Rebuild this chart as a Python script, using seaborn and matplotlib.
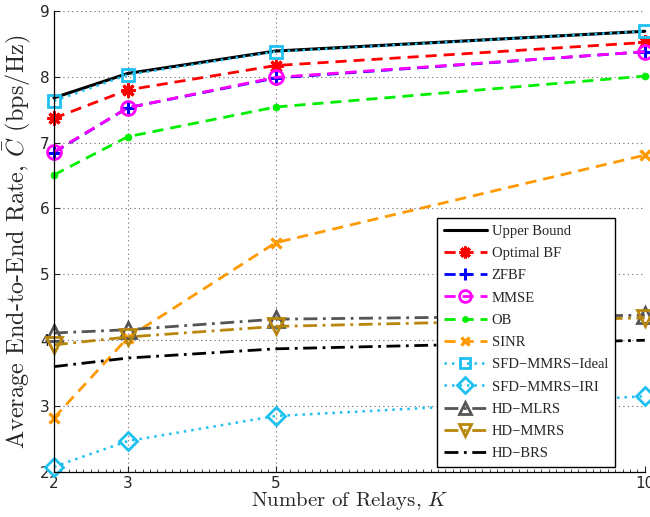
import matplotlib
matplotlib.use("Agg")
import matplotlib.pyplot as plt
from matplotlib.ticker import MultipleLocator, FixedLocator
import seaborn as sns
import pandas as pd

# Number of relays
relays = [2, 3, 5, 10]

# Average end-to-end rate (bps/Hz) per scheme
upper_bound = [7.68, 8.05, 8.39, 8.69]
optimal_bf = [7.37, 7.80, 8.17, 8.52]
zfbf = [6.85, 7.53, 7.98, 8.38]
mmse = [6.86, 7.53, 7.99, 8.38]
ob = [6.51, 7.09, 7.54, 8.01]
sinr = [2.82, 4.04, 5.48, 6.81]
sfd_ideal = [7.63, 8.03, 8.38, 8.69]
sfd_iri = [2.08, 2.47, 2.85, 3.15]
hd_mlrs = [4.11, 4.16, 4.32, 4.38]
hd_mmrs = [3.93, 4.05, 4.21, 4.34]
hd_brs = [3.60, 3.73, 3.87, 4.00]

xticks = [2, 3, 5, 10]
yticks = [2, 3, 4, 5, 6, 7, 8, 9]

sns.set_style("ticks")
plt.rcParams["mathtext.fontset"] = "cm"
plt.rcParams["font.family"] = ["DejaVu Sans"]

fig = plt.figure(figsize=(6.5, 5.17), dpi=100)
ax = fig.add_axes([0.083, 0.087, 0.909, 0.892])

cyan = "#1ec0f0"
dash = (0, (4, 2.5))
dashdot = (0, (5, 2, 1, 2))
dot = (0, (1, 2))


def style(color, ls, lw=2, marker=None, ms=9, hollow=False, mew=2):
    kw = dict(color=color, linestyle=ls, linewidth=lw, clip_on=False)
    if marker is not None:
        kw.update(marker=marker, markersize=ms, markeredgewidth=mew,
                  markeredgecolor=color,
                  markerfacecolor="none" if hollow else color)
    return kw


series = [
    ("Upper Bound", upper_bound, style("black", "-", lw=2.2)),
    ("Optimal BF", optimal_bf, style("red", dash, marker=(8, 2, 0), ms=10, mew=2.2)),
    ("ZFBF", zfbf, style("blue", dash, marker="+", ms=10, mew=2.2)),
    ("MMSE", mmse, style("magenta", dash, marker="o", ms=10, hollow=True)),
    ("OB", ob, style("#00ee00", dash, marker="o", ms=5, mew=0.5)),
    ("SINR", sinr, style("#ff9900", dash, marker="x", ms=7, mew=2.4)),
    ("SFD\u2212MMRS\u2212Ideal", sfd_ideal, style(cyan, dot, lw=1.8, marker="s", ms=9, hollow=True)),
    ("SFD\u2212MMRS\u2212IRI", sfd_iri, style(cyan, dot, lw=1.8, marker="D", ms=9, hollow=True)),
    ("HD\u2212MLRS", hd_mlrs, style("#555555", dashdot, marker="^", ms=11, hollow=True)),
    ("HD\u2212MMRS", hd_mmrs, style("#b8860b", dashdot, marker="v", ms=11, hollow=True)),
    ("HD\u2212BRS", hd_brs, style("black", dashdot)),
]

for label, vals, kw in series:
    df = pd.DataFrame({"K": relays, "rate": vals})
    sns.lineplot(data=df, x="K", y="rate", ax=ax, label=label, sort=False, **kw)

ax.set_xlim(2, 10)
ax.set_ylim(2, 9)
ax.xaxis.set_major_locator(FixedLocator(xticks))
ax.yaxis.set_major_locator(FixedLocator(yticks))
ax.xaxis.set_minor_locator(MultipleLocator(0.1))
ax.tick_params(axis="both", which="major", direction="in", length=4, labelsize=11, pad=3)
ax.tick_params(axis="x", which="minor", direction="in", length=2, width=0.6)
ax.grid(True, which="major", linestyle=(0, (1, 3)), color="#666666", linewidth=0.8)
for side in ("top", "right"):
    ax.spines[side].set_visible(False)
for side in ("left", "bottom"):
    ax.spines[side].set_linewidth(0.9)
    ax.spines[side].set_color("black")

ax.set_xlabel(r"Number of Relays, $K$", fontsize=15, family="cmr10", labelpad=-1)
ax.set_ylabel(r"Average End-to-End Rate, $\bar{C}$ (bps/Hz)", fontsize=17.5, family="cmr10", labelpad=4)

leg = ax.legend(loc="upper left", bbox_to_anchor=(437 / 650, 1 - 218 / 517), bbox_transform=fig.transFigure,
                borderaxespad=0, frameon=True, fancybox=False, edgecolor="black", framealpha=1,
                prop={"family": "Liberation Serif", "size": 10.5}, handlelength=3.0,
                labelspacing=0.62, borderpad=0.45, handletextpad=0.3, markerscale=0.85)
leg.get_frame().set_linewidth(1.0)

fig.savefig("out.png", dpi=100)
